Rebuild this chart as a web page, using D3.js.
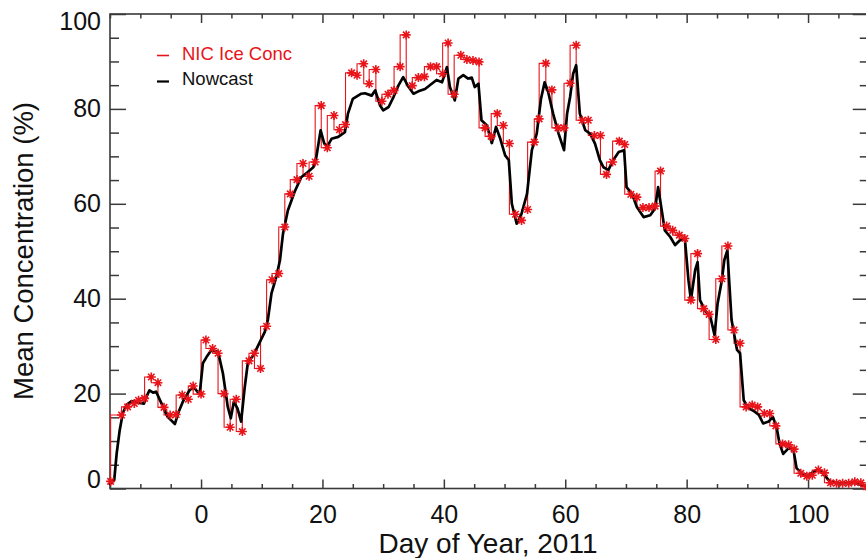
<!DOCTYPE html>
<html>
<head>
<meta charset="utf-8">
<script src="https://cdn.jsdelivr.net/npm/d3@7"></script>
<style>
  html, body { margin: 0; padding: 0; background: #fff; }
  svg { display: block; font-family: "Liberation Sans", Arial, sans-serif; }
</style>
</head>
<body>
<svg id="chart" width="866" height="558"></svg>
<script>
// ---- data ----
const nicDay = [-14.9,-13.1,-12.1,-11.0,-10.3,-9.3,-8.2,-7.1,-6.1,-5.1,-4.1,-3.1,-2.1,-1.3,0.0,0.8,1.9,2.8,3.8,4.8,5.8,6.8,7.9,8.8,9.8,10.8,11.7,12.8,13.8,14.7,15.8,16.8,17.8,18.8,19.8,20.8,21.9,22.8,23.8,24.8,25.7,26.8,27.7,28.8,29.8,30.8,31.8,32.8,33.8,34.8,35.8,36.8,37.8,38.8,39.8,40.7,41.7,42.8,43.8,44.8,45.8,46.8,47.8,48.8,49.8,50.8,51.8,52.8,53.8,54.9,55.7,56.8,57.8,58.8,59.8,60.8,61.8,62.8,63.8,64.8,65.8,66.8,67.8,68.9,69.8,70.8,71.8,72.8,73.8,74.8,75.7,76.7,77.7,78.8,79.7,80.7,81.8,82.8,83.7,84.8,85.8,86.8,87.8,88.8,89.8,90.8,91.7,92.8,93.7,94.7,95.8,96.8,97.7,98.8,99.8,100.7,101.7,102.7,103.7,104.7,105.7,106.7,107.7,108.7,109.6];
const nicConc = [1.5,15.5,17.2,17.9,18.6,19.0,23.5,22.3,17.1,15.5,15.6,19.7,18.8,21.6,19.9,31.3,29.5,28.5,20.0,12.9,18.8,12.0,26.9,28.5,25.3,34.2,44.0,45.3,55.1,62.1,65.1,68.5,65.8,68.8,80.7,71.8,78.6,75.6,76.7,87.6,87.1,89.5,85.3,88.3,81.6,83.1,83.9,88.9,95.6,84.9,86.6,86.8,88.9,88.9,87.4,93.9,83.1,91.3,90.4,90.2,89.9,76.0,74.2,79.0,76.5,72.7,57.8,56.5,58.8,73.0,77.9,89.6,84.0,76.0,76.0,85.4,93.4,77.6,77.6,74.4,74.4,66.2,68.8,73.2,72.5,62.0,61.4,59.2,59.2,59.5,66.9,55.3,54.4,53.4,52.7,39.7,49.5,37.9,36.7,31.4,44.2,51.1,33.4,30.6,17.2,17.6,17.2,15.8,15.8,13.2,9.4,9.2,8.3,3.2,2.6,2.8,3.9,3.3,1.2,1.1,1.1,1.1,1.4,1.2,0.4];

const nowDay = [-15.0,-14.3,-13.9,-13.4,-12.9,-12.3,-11.5,-10.4,-9.4,-9.0,-8.5,-7.9,-7.4,-6.5,-5.5,-4.3,-3.8,-3.0,-1.9,-1.2,-0.6,-0.2,0.3,0.9,1.7,2.8,3.6,4.4,4.9,5.4,6.0,6.6,7.2,7.7,8.8,9.7,10.5,11.0,11.6,12.4,13.0,13.5,14.3,15.4,16.5,17.6,18.5,19.0,19.7,20.3,20.8,21.5,22.6,23.7,24.2,25.0,26.4,27.0,28.1,28.7,29.5,30.0,30.9,31.7,32.5,33.3,34.2,35.0,35.8,36.9,38.0,38.8,39.7,40.5,41.0,41.8,42.4,43.2,44.0,44.6,45.1,45.7,46.2,47.1,47.9,48.6,49.3,50.1,50.7,51.2,52.0,52.8,53.7,54.5,55.3,56.0,56.6,57.2,58.0,58.9,59.8,60.3,60.8,61.3,61.8,62.4,63.3,64.1,64.9,65.7,66.3,67.1,67.9,68.8,69.7,70.1,71.0,71.8,72.9,74.0,74.8,75.3,75.9,76.4,77.3,78.1,78.9,79.7,80.3,80.7,81.4,81.8,82.2,83.0,83.9,84.6,85.1,85.8,86.2,86.7,87.4,88.3,88.8,89.4,90.2,91.0,91.9,92.6,93.5,94.2,94.8,95.3,95.9,96.8,97.6,98.1,99.0,100.1,100.9,101.7,102.5,103.6,105.3,107.5,109.6];
const nowConc = [1.0,1.8,7.4,12.3,15.8,17.6,18.4,18.1,17.9,19.3,20.7,20.2,20.4,17.9,15.1,13.6,15.8,18.3,20.7,21.4,20.4,20.2,26.4,27.7,29.2,28.8,24.3,17.2,14.8,18.3,16.9,14.1,21.4,26.4,28.5,30.9,33.0,35.5,41.1,44.6,48.1,53.7,58.6,62.5,65.6,66.7,67.7,69.9,75.5,72.7,72.1,73.7,74.1,75.1,79.0,82.1,83.2,83.3,82.8,83.9,80.7,79.7,80.4,82.5,84.9,86.7,84.6,83.2,83.7,84.2,85.3,86.1,85.6,88.8,84.6,81.8,86.4,87.1,86.4,86.6,84.6,85.3,77.6,76.5,72.8,76.2,73.7,70.2,69.2,60.0,55.8,57.9,62.1,71.3,74.8,82.1,85.6,83.5,79.0,74.8,71.3,79.0,82.5,87.4,89.2,79.0,75.5,74.8,72.7,69.2,67.7,67.1,69.2,70.9,71.3,63.5,62.1,59.3,57.2,57.6,59.0,63.5,58.6,54.4,53.0,51.3,52.3,52.7,43.9,39.7,46.0,47.7,39.7,37.6,36.2,32.3,39.0,43.9,48.1,50.2,35.5,29.2,28.5,18.6,16.9,16.4,15.5,13.7,14.1,15.1,13.0,9.5,7.3,8.5,8.1,4.3,3.1,2.8,3.5,4.0,3.2,1.4,1.1,1.2,0.5];

const xMajorTicks = [0, 20, 40, 60, 80, 100];
const yMajorTicks = [0, 20, 40, 60, 80, 100];
const xDomain = [-15, 110];
const yDomain = [0, 100];
const legendLabels = ["NIC Ice Conc", "Nowcast"];
const xTitle = "Day of Year, 2011";
const yTitle = "Mean Concentration (%)";

// ---- layout ----
const RED = "#e8141a";
const svg = d3.select("#chart");
const mLeft = 110, mRight = 868.75, mTop = 14, mBottom = 488.5;
const x = d3.scaleLinear().domain(xDomain).range([mLeft, mRight]);
const y = d3.scaleLinear().domain(yDomain).range([mBottom, mTop]);

const xMinor = d3.range(-15, 111, 5).filter(v => !xMajorTicks.includes(v));
const yMinor = d3.range(0, 101, 5).filter(v => !yMajorTicks.includes(v));

function styleAxis(g) {
  g.select(".domain").remove();
  g.selectAll(".tick line").attr("stroke", "#3a3a3a").attr("stroke-width", 1.5);
  g.selectAll(".tick text").attr("fill", "#111").attr("font-size", 25)
    .attr("font-family", "Liberation Sans, Arial, sans-serif");
}

// bottom
svg.append("g").attr("transform", `translate(0,${mBottom})`)
  .call(d3.axisBottom(x).tickValues(xMajorTicks).tickSize(-9).tickPadding(17).tickFormat(d3.format("d")))
  .call(styleAxis);
svg.append("g").attr("transform", `translate(0,${mBottom})`)
  .call(d3.axisBottom(x).tickValues(xMinor).tickSize(-4.5).tickFormat(""))
  .call(styleAxis);
// top
svg.append("g").attr("transform", `translate(0,${mTop})`)
  .call(d3.axisTop(x).tickValues(xMajorTicks).tickSize(-9).tickFormat(""))
  .call(styleAxis);
svg.append("g").attr("transform", `translate(0,${mTop})`)
  .call(d3.axisTop(x).tickValues(xMinor).tickSize(-4.5).tickFormat(""))
  .call(styleAxis);
// left
const gl = svg.append("g").attr("transform", `translate(${mLeft},0)`)
  .call(d3.axisLeft(y).tickValues(yMajorTicks).tickSize(-16).tickPadding(9).tickFormat(d3.format("d")))
  .call(styleAxis);
gl.selectAll(".tick text").attr("dy", d => d === 0 ? "-0.06em" : d === 100 ? "0.63em" : "0.32em");
svg.append("g").attr("transform", `translate(${mLeft},0)`)
  .call(d3.axisLeft(y).tickValues(yMinor).tickSize(-9).tickFormat(""))
  .call(styleAxis);
// right
svg.append("g").attr("transform", `translate(${mRight},0)`)
  .call(d3.axisRight(y).tickValues(yMajorTicks).tickSize(-16).tickFormat(""))
  .call(styleAxis);
svg.append("g").attr("transform", `translate(${mRight},0)`)
  .call(d3.axisRight(y).tickValues(yMinor).tickSize(-9).tickFormat(""))
  .call(styleAxis);

// frame
svg.append("rect").attr("x", mLeft).attr("y", mTop)
  .attr("width", mRight - mLeft).attr("height", mBottom - mTop)
  .attr("fill", "none").attr("stroke", "#3a3a3a").attr("stroke-width", 1.6);

// ---- data marks ----
const nic = nicDay.map((d, i) => [d, nicConc[i]]);
const now = nowDay.map((d, i) => [d, nowConc[i]]);

svg.append("path").datum(nic)
  .attr("fill", "none").attr("stroke", RED).attr("stroke-width", 1.1)
  .attr("d", d3.line().x(d => x(d[0])).y(d => y(d[1])).curve(d3.curveStepBefore));

svg.append("path").datum(now)
  .attr("fill", "none").attr("stroke", "#000").attr("stroke-width", 2.7)
  .attr("stroke-linejoin", "round").attr("stroke-linecap", "round")
  .attr("d", d3.line().x(d => x(d[0])).y(d => y(d[1])));

function asterisk(r) {
  const p = d3.path(), k = r * 0.72;
  p.moveTo(-r, 0); p.lineTo(r, 0);
  p.moveTo(0, -r); p.lineTo(0, r);
  p.moveTo(-k, -k); p.lineTo(k, k);
  p.moveTo(-k, k); p.lineTo(k, -k);
  return p.toString();
}
const astPath = asterisk(4.5);
svg.append("g").selectAll("path").data(nic).join("path")
  .attr("transform", d => `translate(${x(d[0])},${y(d[1])})`)
  .attr("d", astPath).attr("fill", "none").attr("stroke", RED).attr("stroke-width", 1.6);

// ---- legend ----
const lg = svg.append("g");
lg.append("line").attr("x1", 157).attr("x2", 169).attr("y1", 55.5).attr("y2", 55.5)
  .attr("stroke", RED).attr("stroke-width", 1.6);
lg.append("text").attr("x", 182).attr("y", 60).attr("font-size", 18.5).attr("fill", RED).text(legendLabels[0]);
lg.append("line").attr("x1", 157).attr("x2", 169).attr("y1", 81.5).attr("y2", 81.5)
  .attr("stroke", "#000").attr("stroke-width", 2.2);
lg.append("text").attr("x", 182).attr("y", 85).attr("font-size", 18.5).attr("fill", "#111").text(legendLabels[1]);

// ---- titles ----
svg.append("text").attr("x", 488).attr("y", 553).attr("text-anchor", "middle")
  .attr("font-size", 28).attr("fill", "#111").text(xTitle);
svg.append("text").attr("transform", `translate(33,251) rotate(-90)`).attr("text-anchor", "middle")
  .attr("font-size", 27.5).attr("fill", "#111").text(yTitle);
</script>
</body>
</html>
